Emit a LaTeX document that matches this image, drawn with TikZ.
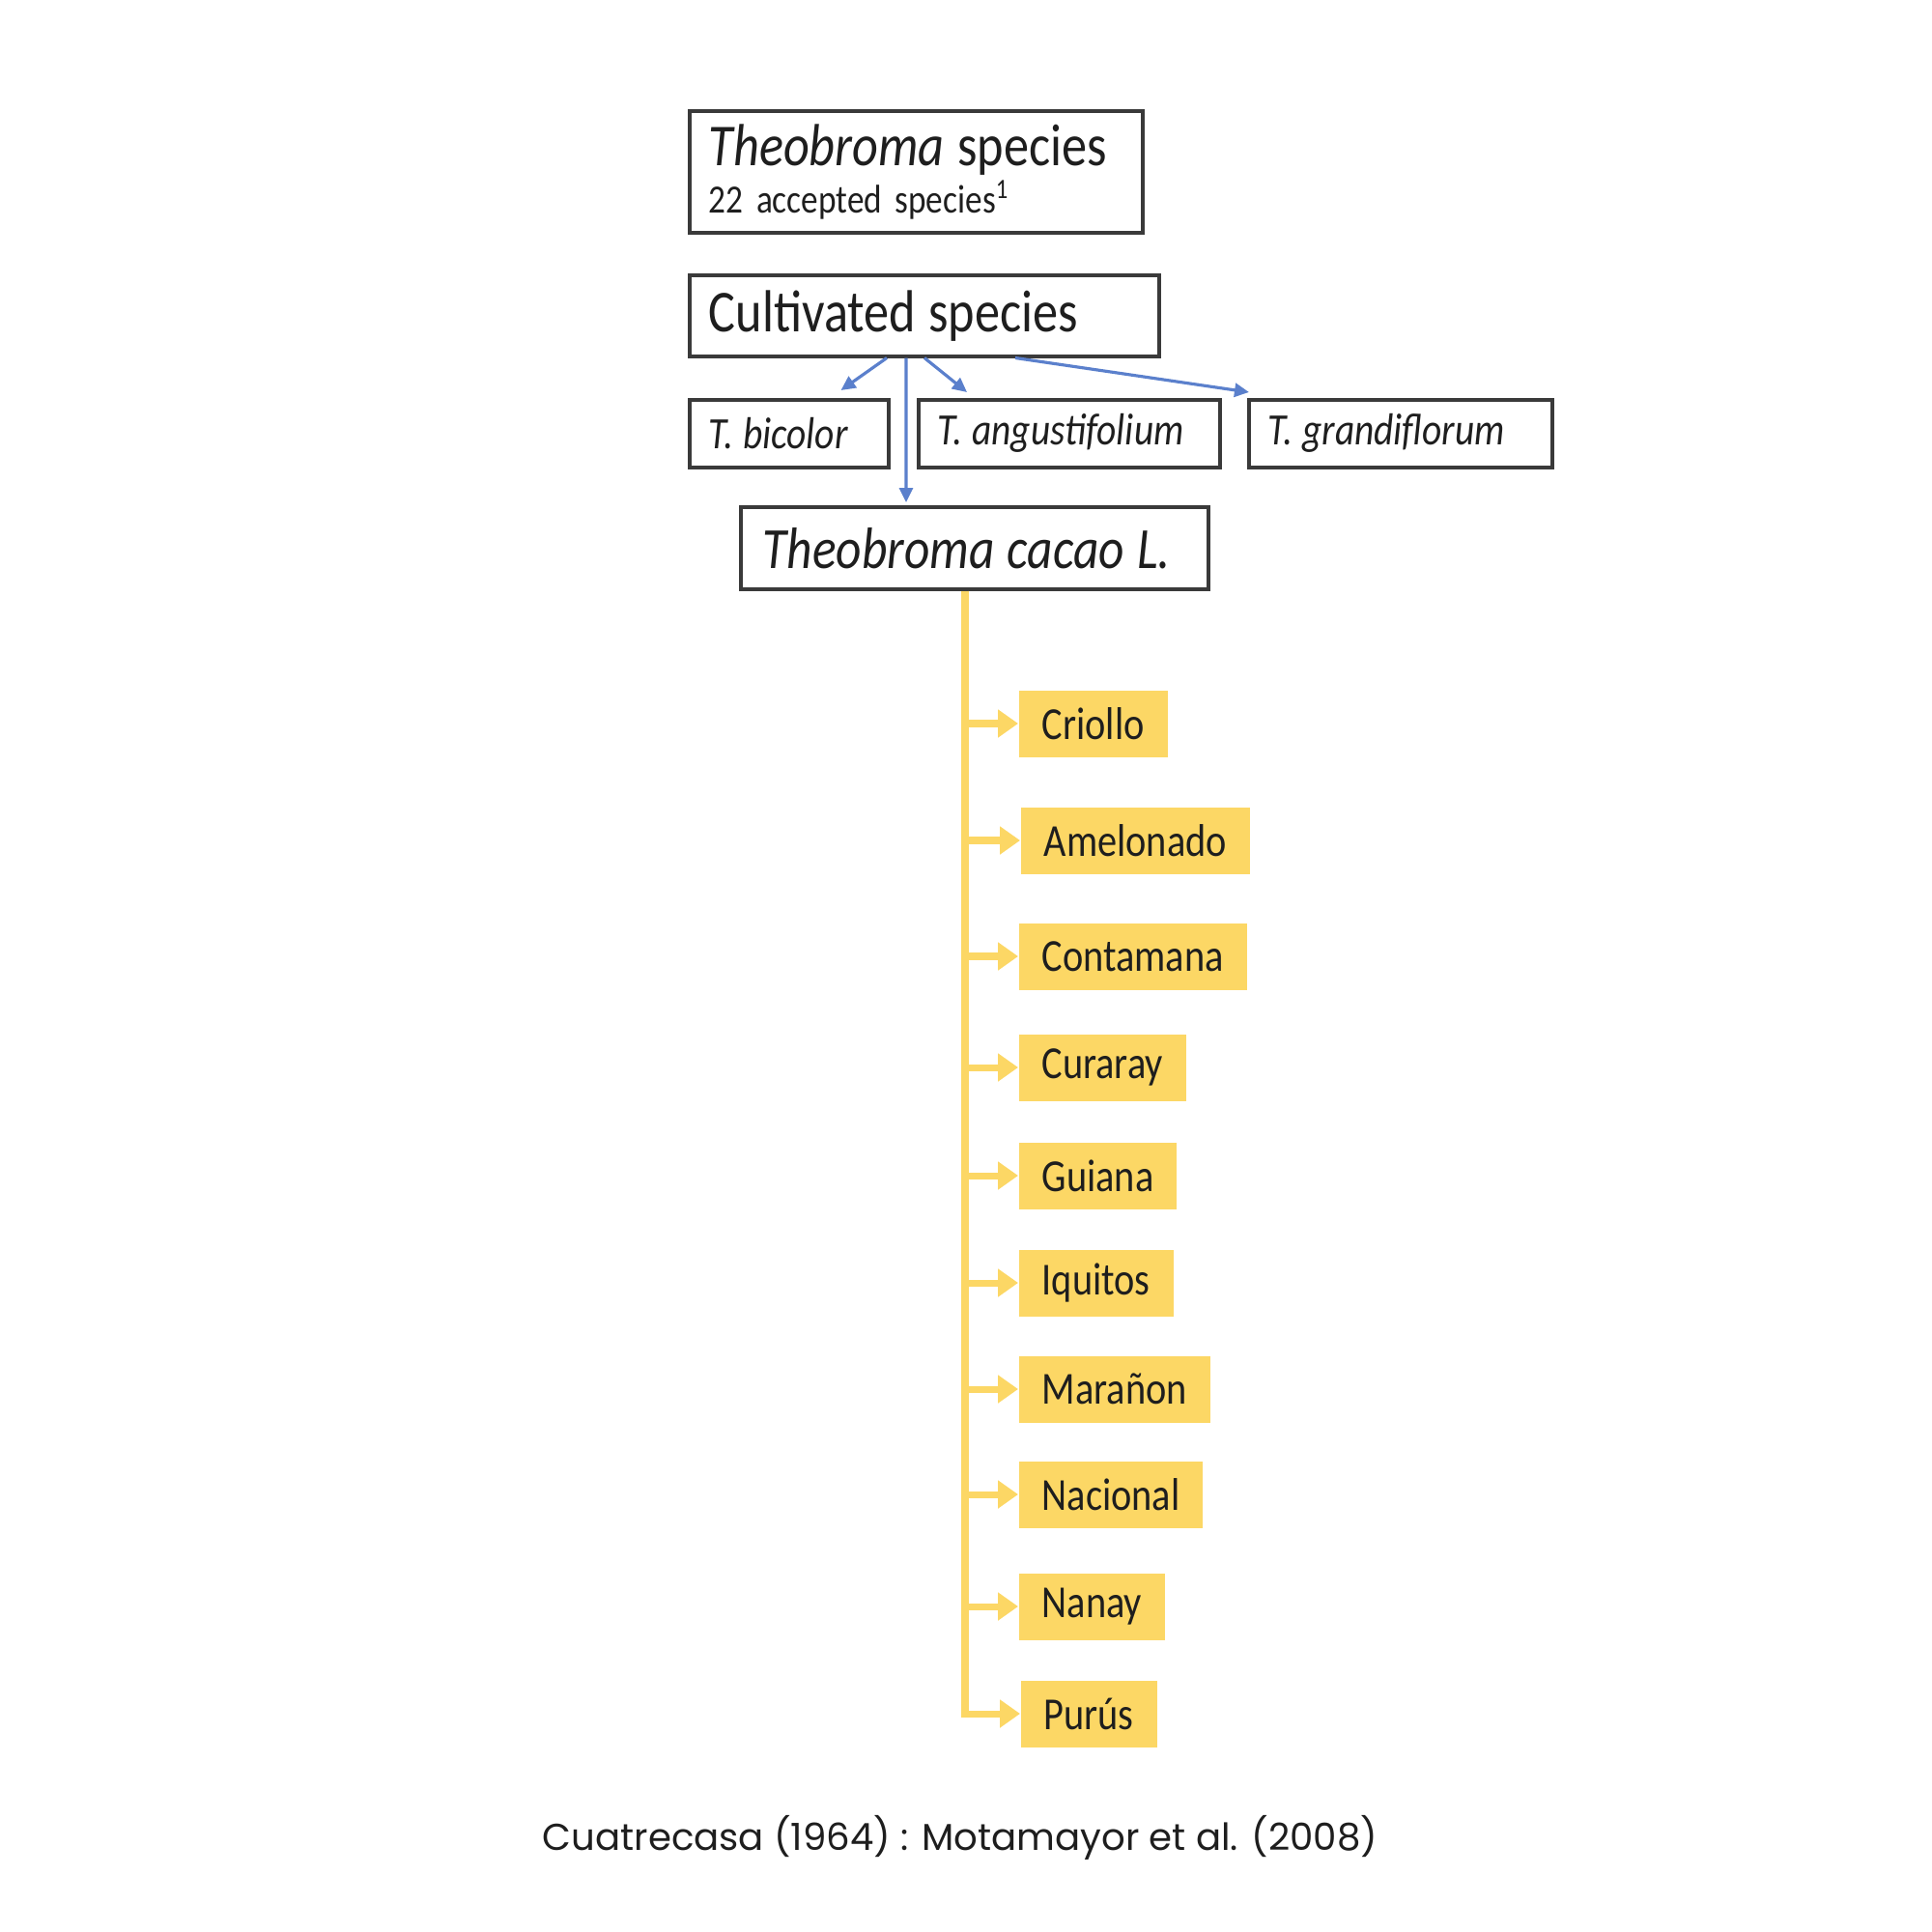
\documentclass[tikz,border=0pt]{standalone}
\usepackage{fontspec}
\setmainfont{Carlito}[FakeStretch=0.85]
\newfontfamily\capfont{Poppins}
\usepackage{xcolor}
\definecolor{frame}{HTML}{3A3A3A}
\definecolor{linkblue}{HTML}{5B80CC}
\definecolor{gold}{HTML}{FCD765}
\definecolor{ink}{HTML}{1E1E1E}
\usetikzlibrary{positioning,arrows.meta}

\begin{document}
\begin{tikzpicture}[
  sbox/.style={draw=frame,line width=1pt,anchor=north west,align=left,
    inner xsep=0.2cm,inner ysep=0pt,text=ink,
    execute at begin node={\spaceskip=0.22em plus 0.05em\relax}},
  vbox/.style={fill=gold,anchor=west,minimum height=0.69cm,inner xsep=0.24cm,
    text=ink,font=\fontsize{13.5}{16}\selectfont},
  barr/.style={-{Triangle[length=0.15cm,width=0.14cm]},line width=0.9pt,color=linkblue},
  yarr/.style={-{Triangle[length=0.21cm,width=0.28cm]},line width=2pt,color=gold}]
\useasboundingbox (0,0) rectangle (20,-20);
% species boxes
\node[sbox,text width=4.29cm,minimum height=1.26cm,font=\fontsize{17.5}{14}\selectfont] (gen) at (7.12,-1.13)
  {\textit{Theobroma} species\\{\fontsize{11.8}{14}\selectfont 22 accepted species\textsuperscript{1}}};
\node[sbox,text width=4.46cm,minimum height=0.84cm,font=\fontsize{17.5}{20}\selectfont] (cult) at (7.12,-2.83) {Cultivated species};
\node[sbox,text width=1.66cm,minimum height=0.70cm,font=\fontsize{13.2}{16}\selectfont\itshape] (bic) at (7.12,-4.12) {T. bicolor};
\node[sbox,text width=2.72cm,minimum height=0.70cm,font=\fontsize{13.2}{16}\selectfont\itshape] (ang) at (9.49,-4.12) {T. angustifolium};
\node[sbox,text width=2.74cm,minimum height=0.70cm,font=\fontsize{13.2}{16}\selectfont\itshape] (gra) at (12.91,-4.12) {T. grandiflorum};
\node[sbox,inner xsep=0.23cm,text width=4.38cm,minimum height=0.85cm,font=\fontsize{17.2}{20}\selectfont\itshape] (cac) at (7.65,-5.23) {Theobroma cacao L.};
\draw[barr] ([xshift=2.06cm]cult.south west) -- ([xshift=-0.51cm,yshift=0.08cm]bic.north east);
\draw[barr] ([xshift=2.45cm]cult.south west) -- ([xshift=0.52cm,yshift=0.06cm]ang.north west);
\draw[barr] ([xshift=3.39cm]cult.south west) -- ([xshift=0.02cm,yshift=0.06cm]gra.north west);
\draw[barr] ([xshift=2.26cm]cult.south west) -- ([xshift=1.73cm,yshift=0.03cm]cac.north west);
% genetic groups
\node[vbox] (cri) at (10.54,-7.49) {Criollo};
\node[vbox] (ame) at (10.56,-8.70) {Amelonado};
\node[vbox] (con) at (10.54,-9.90) {Contamana};
\node[vbox] (cur) at (10.54,-11.05) {Curaray};
\node[vbox] (gui) at (10.54,-12.17) {Guiana};
\node[vbox] (iqu) at (10.54,-13.28) {Iquitos};
\node[vbox] (mar) at (10.54,-14.38) {Marañon};
\node[vbox] (nac) at (10.54,-15.47) {Nacional};
\node[vbox] (nan) at (10.54,-16.63) {Nanay};
\node[vbox] (pur) at (10.56,-17.74) {Purús};
\coordinate (tr) at ([xshift=2.34cm]cac.south west);
\draw[yarr] (tr) |- (pur.west);
\foreach \g in {cri,ame,con,cur,gui,iqu,mar,nac,nan}
  \draw[yarr] (\g.west -| tr) -- (\g.west);
% source
\node[font=\capfont\fontsize{11}{13}\selectfont,text=ink] (src) at (9.94,-19.02)
  {Cuatrecasa (1964) : Motamayor et al. (2008)};
\end{tikzpicture}
\end{document}
